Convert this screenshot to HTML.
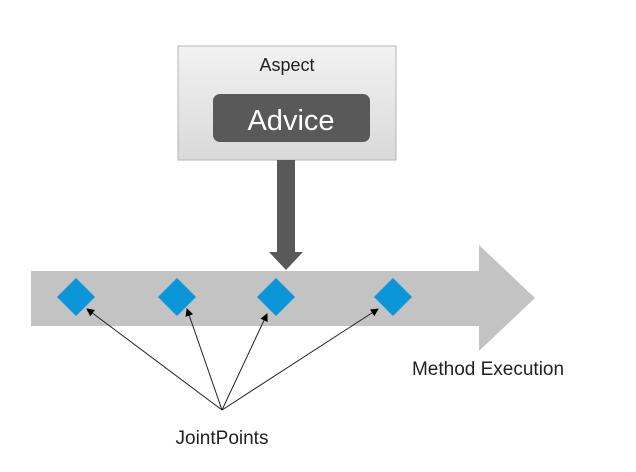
<!DOCTYPE html>
<html><head><style>
body{margin:0;background:#fff;}
svg{display:block}
text{font-family:"Liberation Sans",sans-serif}
</style></head><body>
<svg width="636" height="472" viewBox="0 0 636 472">
<defs>
<linearGradient id="g" x1="0" y1="0" x2="0" y2="1"><stop offset="0" stop-color="#f2f2f2"/><stop offset="1" stop-color="#d9d9d9"/></linearGradient>
<marker id="a" markerWidth="8" markerHeight="8" refX="7" refY="4" orient="auto" markerUnits="userSpaceOnUse"><path d="M0,0 L8,4 L0,8 z" fill="#000"/></marker>
</defs>
<polygon points="31,271 479,271 479,245 535,298 479,351 479,326 31,326" fill="#c3c3c3"/>
<rect x="178" y="46" width="218" height="114" fill="url(#g)" stroke="#b5b5b5"/>
<text x="287" y="71" font-size="18" text-anchor="middle" fill="#222">Aspect</text>
<rect x="213" y="94" width="157" height="48" rx="7" fill="#595959"/>
<text x="291" y="130" font-size="29" text-anchor="middle" fill="#fff">Advice</text>
<polygon points="277,160 295,160 295,252 303,252 286,270 269,252 277,252" fill="#595959"/>
<g fill="#0a96d8">
<polygon points="76,278 95,297 76,316 57,297"/>
<polygon points="177,278 196,297 177,316 158,297"/>
<polygon points="276,278 295,297 276,316 257,297"/>
<polygon points="393,278 412,297 393,316 374,297"/>
</g>
<g stroke="#222" stroke-width="1" marker-end="url(#a)">
<line x1="222" y1="410" x2="87" y2="309"/>
<line x1="222" y1="410" x2="187" y2="309"/>
<line x1="222" y1="410" x2="267" y2="314"/>
<line x1="222" y1="410" x2="378" y2="309"/>
</g>
<text x="222" y="444" font-size="19" text-anchor="middle" fill="#222">JointPoints</text>
<text x="488" y="375" font-size="19" text-anchor="middle" fill="#222">Method Execution</text>
</svg>
</body></html>
